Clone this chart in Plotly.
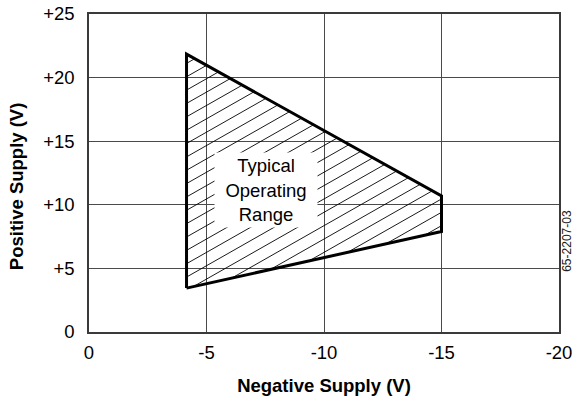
import plotly.graph_objects as go

# ---- data ----
neg_supply = [-4.15, -4.15, -15.0, -15.0]   # Negative Supply (V), polygon vertices
pos_supply = [3.45, 21.85, 10.7, 7.9]       # Positive Supply (V), polygon vertices
x_tickvals = [0, -5, -10, -15, -20]
x_ticktext = ["0", "-5", "-10", "-15", "-20"]
y_tickvals = [0, 5, 10, 15, 20, 25]
y_ticktext = ["0", "+5", "+10", "+15", "+20", "+25"]
region_label = "Typical<br>Operating<br>Range"
figure_id = "65-2207-03"
x_title = "Negative Supply (V)"
y_title = "Positive Supply (V)"

FONT = "Liberation Sans, Arial, Helvetica, sans-serif"

# ---- hatch lines clipped to the polygon (style only) ----
HATCH_SLOPE = 1.05
HATCH_STEP = 1.05
HATCH_OFFSET = 16.76
poly = list(zip(neg_supply, pos_supply))
hx, hy = [], []
for k in range(-40, 10):
    c = HATCH_OFFSET + k * HATCH_STEP
    pts = []
    n = len(poly)
    for i in range(n):
        (x1, y1), (x2, y2) = poly[i], poly[(i + 1) % n]
        f1 = y1 + HATCH_SLOPE * x1 - c
        f2 = y2 + HATCH_SLOPE * x2 - c
        if f1 == f2:
            continue
        if (f1 <= 0 <= f2) or (f2 <= 0 <= f1):
            t = f1 / (f1 - f2)
            pts.append((x1 + t * (x2 - x1), y1 + t * (y2 - y1)))
    if len(pts) >= 2:
        pts.sort()
        a, b = pts[0], pts[-1]
        if abs(a[0] - b[0]) > 1e-6:
            hx += [a[0], b[0], None]
            hy += [a[1], b[1], None]

fig = go.Figure()
fig.add_trace(go.Scatter(x=hx, y=hy, mode="lines",
                         line=dict(color="black", width=0.9),
                         hoverinfo="skip", showlegend=False))
fig.add_trace(go.Scatter(x=neg_supply + [neg_supply[0]], y=pos_supply + [pos_supply[0]],
                         mode="lines", line=dict(color="black", width=3),
                         showlegend=False))

fig.add_annotation(x=-7.53, y=11.16, xref="x", yref="y", text=region_label,
                   showarrow=False, bgcolor="white", width=102, height=74,
                   borderpad=0, xanchor="center", yanchor="middle",
                   font=dict(family=FONT, size=18.5, color="black"))
fig.add_annotation(x=1.0165, y=0.286, xref="paper", yref="paper", text=figure_id,
                   textangle=-90, showarrow=False, xanchor="center", yanchor="middle",
                   font=dict(family=FONT, size=12, color="#222"))
fig.add_annotation(x=-0.155, y=0.459, xref="paper", yref="paper", text=y_title,
                   textangle=-90, showarrow=False, xanchor="center", yanchor="middle",
                   font=dict(family=FONT, size=18.5, color="black", weight="bold"))

axis_common = dict(showgrid=True, gridcolor="#4a4a4a", gridwidth=1,
                   showline=True, linecolor="#3a3a3a", linewidth=1.5, mirror=True,
                   zeroline=False, ticks="", automargin=False,
                   tickfont=dict(family=FONT, size=18.5, color="black"))

fig.update_layout(
    template="none",
    width=574, height=401,
    margin=dict(l=89, r=15, t=14, b=69),
    paper_bgcolor="white", plot_bgcolor="white",
    xaxis=dict(range=[0, -20], tickvals=x_tickvals, ticktext=x_ticktext,
               ticklabelstandoff=3,
               title=dict(text=x_title, standoff=17,
                          font=dict(family=FONT, size=18.5, color="black", weight="bold")),
               **axis_common),
    yaxis=dict(range=[0, 25], tickvals=y_tickvals, ticktext=y_ticktext,
               ticklabelstandoff=9, **axis_common),
)

fig.write_html("out.html", config={"displayModeBar": False},
               post_script="document.body.style.margin='0';document.body.style.overflow='hidden';")
